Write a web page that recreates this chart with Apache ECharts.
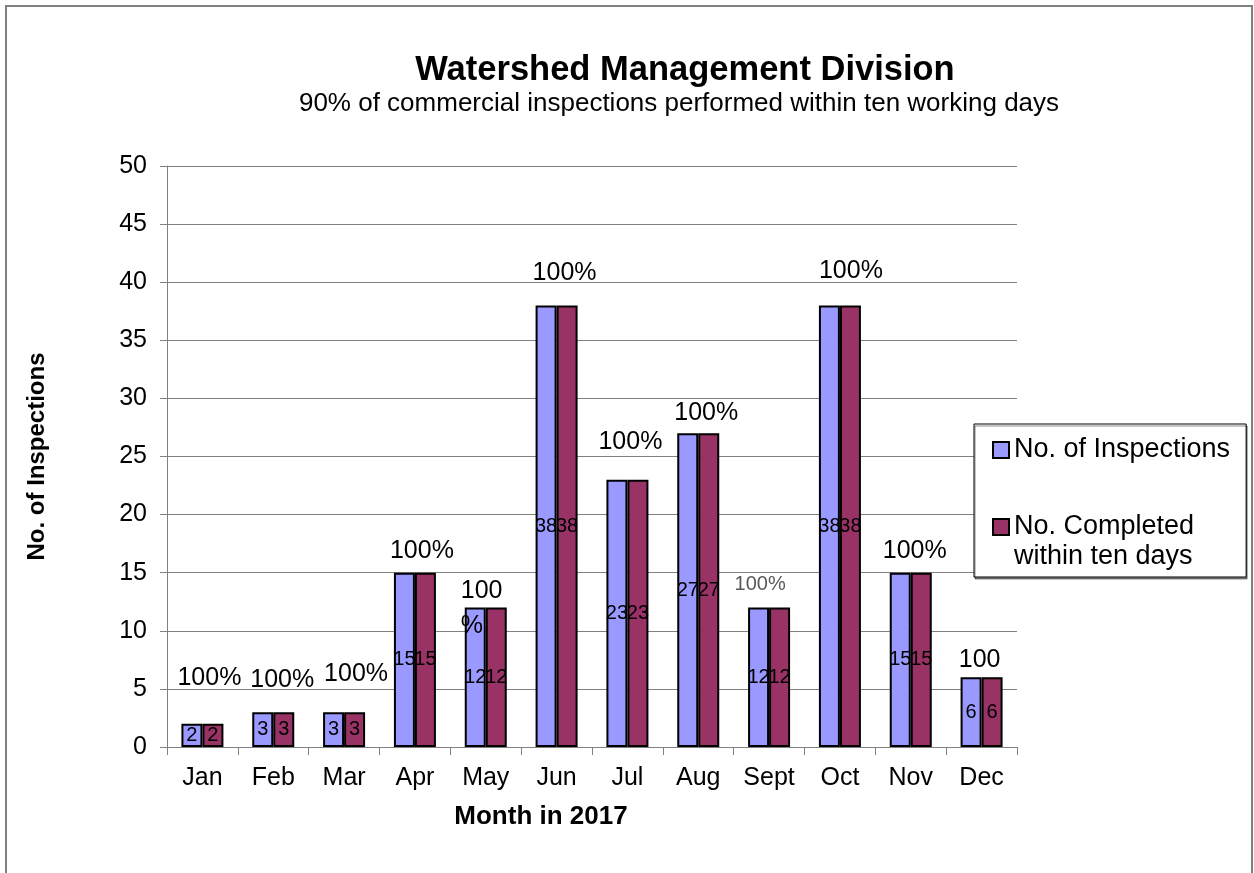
<!DOCTYPE html>
<html>
<head>
<meta charset="utf-8">
<script src="https://cdn.jsdelivr.net/npm/echarts@6/dist/echarts.min.js"></script>
<style>
  html, body { margin: 0; padding: 0; background: #fff; }
  #ec { width: 1254px; height: 873px; }
</style>
</head>
<body>
<div id="ec"></div>
<script>
// 月份
var months = ['Jan', 'Feb', 'Mar', 'Apr', 'May', 'Jun', 'Jul', 'Aug', 'Sept', 'Oct', 'Nov', 'Dec'];
// 检查数量
var inspections = [2, 3, 3, 15, 12, 38, 23, 27, 12, 38, 15, 6];
// 十天内完成
var completed = [2, 3, 3, 15, 12, 38, 23, 27, 12, 38, 15, 6];
// 百分比标签
var pctLabels = ['100%', '100%', '100%', '100%', '100\n%', '100%', '100%', '100%', '100%', '100%', '100%', '100'];

var FONT = '"Liberation Sans", Arial, sans-serif';
var ec = echarts.init(document.getElementById('ec'));

var NAME_1 = 'No. of Inspections';
var NAME_2 = 'No. Completed\nwithin ten days';

// 百分比标签的微调 [dx, dy]
var nudges = [[7, -46], [9, -32], [12, -38], [7, -22], [-25, 1], [8, -32],
  [3, -38], [8, -20], [-9, -23], [11, -34], [4, -22], [-2, -17]];

var pctData = completed.map(function(v, i) {
  var item = {
    value: v,
    label: { formatter: pctLabels[i], offset: nudges[i], color: '#000' }
  };
  if (i === 4) {
    item.label.align = 'left';
    item.label.lineHeight = 35;
  }
  if (i === 8) {
    item.label.fontSize = 20;
    item.label.color = '#595959';
  }
  return item;
});

var barLabel = {
  show: true,
  position: 'inside',
  color: '#000',
  fontSize: 20,
  fontFamily: FONT
};

var option = {
  backgroundColor: '#fff',
  animation: false,
  title: [{
    text: 'Watershed Management Division',
    left: 680,
    top: 48,
    textAlign: 'center',
    textStyle: { fontFamily: FONT, fontSize: 34.5, fontWeight: 'bold', color: '#000' }
  }, {
    text: '90% of commercial inspections performed within ten working days',
    left: 674,
    top: 86,
    textAlign: 'center',
    textStyle: { fontFamily: FONT, fontSize: 26, fontWeight: 'normal', color: '#000' }
  }],
  graphic: [{
    type: 'rect',
    shape: { x: 6, y: 6, width: 1246, height: 900 },
    style: { fill: 'none', stroke: '#808080', lineWidth: 2 },
    silent: true
  }],
  legend: {
    orient: 'vertical',
    left: 974,
    top: 424,
    padding: [11, 16, 5, 18],
    itemGap: 17,
    itemWidth: 16,
    itemHeight: 16,
    borderColor: '#000',
    borderWidth: 1,
    backgroundColor: '#fff',
    shadowColor: 'rgba(0,0,0,0.45)',
    shadowOffsetX: 1,
    shadowOffsetY: 2,
    shadowBlur: 0,
    textStyle: { fontFamily: FONT, fontSize: 27, color: '#000', lineHeight: 30 },
    // 第二项前面加一个空行，让图标对齐第一行文字
    formatter: function(name) {
      return name === NAME_2 ? ' \n' + name : name;
    },
    data: [
      { name: NAME_1, icon: 'rect' },
      { name: NAME_2, icon: 'rect' }
    ]
  },
  grid: { left: 167, right: 237, top: 166, bottom: 126 },
  xAxis: {
    type: 'category',
    data: months,
    name: 'Month in 2017',
    nameLocation: 'middle',
    nameGap: 57,
    nameTextStyle: { fontFamily: FONT, fontSize: 26, fontWeight: 'bold', color: '#000', padding: [0, 102, 0, 0] },
    axisLine: { lineStyle: { color: '#808080', width: 1 } },
    axisTick: { show: true, length: 8, interval: 0, lineStyle: { color: '#808080' } },
    axisLabel: { fontFamily: FONT, fontSize: 25, color: '#000', margin: 19, interval: 0 }
  },
  yAxis: {
    type: 'value',
    min: 0,
    max: 50,
    interval: 5,
    name: NAME_1,
    nameLocation: 'middle',
    nameGap: 118,
    nameRotate: 90,
    nameTextStyle: { fontFamily: FONT, fontSize: 24, fontWeight: 'bold', color: '#000' },
    axisLine: { show: true, lineStyle: { color: '#808080', width: 1 } },
    axisTick: { show: true, length: 7, lineStyle: { color: '#808080' } },
    axisLabel: { fontFamily: FONT, fontSize: 25, color: '#000', margin: 20 },
    splitLine: { lineStyle: { color: '#808080', width: 1 } }
  },
  series: [{
    name: NAME_1,
    type: 'bar',
    barWidth: 21,
    barGap: '0%',
    itemStyle: { color: '#9999FF', borderColor: '#000', borderWidth: 2 },
    label: barLabel,
    data: inspections
  }, {
    name: NAME_2,
    type: 'bar',
    barWidth: 21,
    barGap: '0%',
    itemStyle: { color: '#993366', borderColor: '#000', borderWidth: 2 },
    label: barLabel,
    data: completed
  }, {
    // 百分比标签
    type: 'scatter',
    symbolSize: 1,
    itemStyle: { color: 'transparent' },
    silent: true,
    z: 5,
    label: {
      show: true,
      position: 'inside',
      align: 'center',
      verticalAlign: 'middle',
      fontFamily: FONT,
      fontSize: 25,
      color: '#000',
      opacity: 1
    },
    data: pctData
  }]
};
ec.setOption(option);
</script>
</body>
</html>
